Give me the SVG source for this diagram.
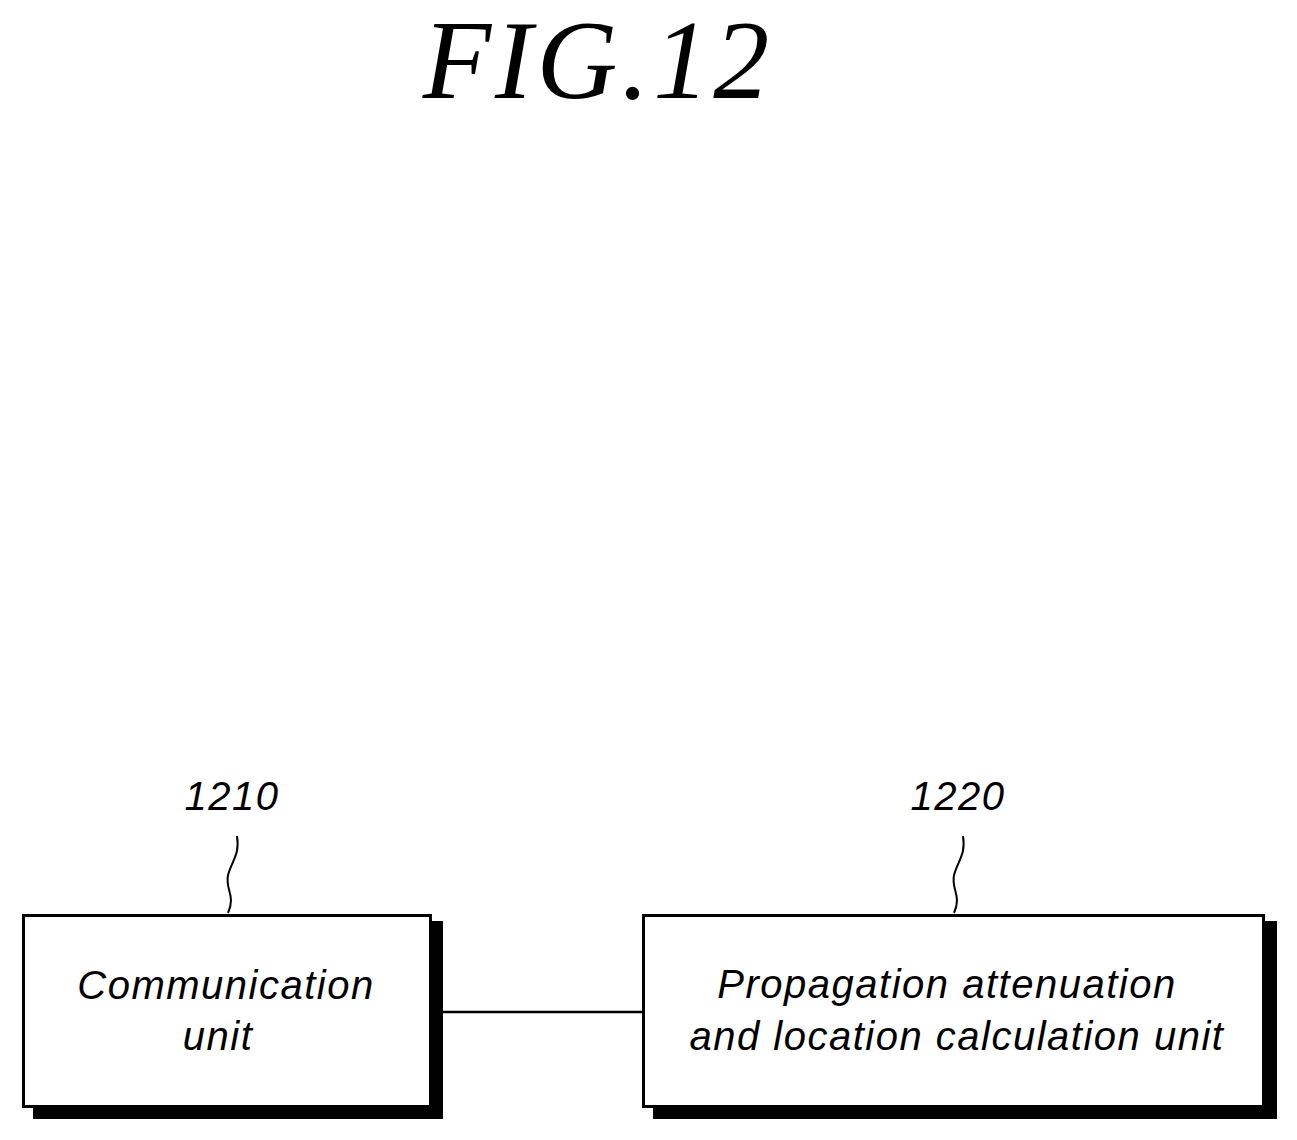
<svg xmlns="http://www.w3.org/2000/svg" width="1297" height="1140" viewBox="0 0 1297 1140">
<style>
.t{font-family:"Liberation Sans",Arial,sans-serif;font-style:italic;font-size:40px;fill:#000;letter-spacing:1.5px}
.box{fill:#fff;stroke:#000;stroke-width:3}
.ld{fill:none;stroke:#000;stroke-width:2}
</style>
<rect width="1297" height="1140" fill="#fff"/>
<text x="598" y="98" text-anchor="middle" font-family="Liberation Serif,serif" font-style="italic" font-size="112" letter-spacing="4">FIG.12</text>
<g id="n1210">
<rect x="33" y="921" width="410" height="198" fill="#000"/>
<rect class="box" x="23.5" y="915.5" width="407" height="191"/>
<text class="t" x="226" y="999" text-anchor="middle">Communication</text>
<text class="t" x="218" y="1050" text-anchor="middle">unit</text>
<text class="t" x="232" y="810" text-anchor="middle">1210</text>
<path class="ld" d="M237,836 C240,855 232,860 228,875 C225,890 236,895 228,913"/>
</g>
<g id="n1220">
<rect x="653" y="921" width="624" height="198" fill="#000"/>
<rect class="box" x="643.5" y="915.5" width="620" height="191"/>
<text class="t" x="947" y="998" text-anchor="middle">Propagation attenuation</text>
<text class="t" x="957" y="1050" text-anchor="middle">and location calculation unit</text>
<text class="t" x="958" y="810" text-anchor="middle">1220</text>
<path class="ld" d="M963,836 C966,855 958,860 954,875 C951,890 962,895 954,913"/>
</g>
<g id="connectors">
<line x1="443" y1="1012" x2="642" y2="1012" stroke="#000" stroke-width="2.5"/>
</g>
</svg>
